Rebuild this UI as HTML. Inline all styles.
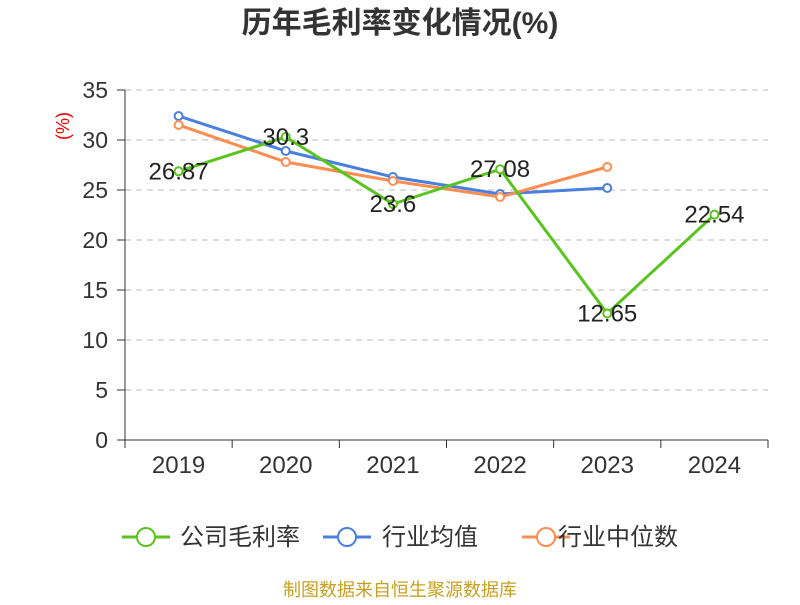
<!DOCTYPE html>
<html><head><meta charset="utf-8"><style>
body{margin:0;background:#fff;}
svg text{font-family:"Liberation Sans","Noto Sans CJK SC",sans-serif;}
</style></head><body>
<svg width="800" height="600" id="c">
<text x="400" y="33" text-anchor="middle" font-size="30" font-weight="bold" fill="#333">历年毛利率变化情况(%)</text>
<text transform="translate(69,126) rotate(-90)" text-anchor="middle" font-size="18" fill="#e00">(%)</text>
<g id="grid"></g><g id="axes"></g><g id="series"></g>
<g>
<g><line x1="122" y1="537" x2="170" y2="537" stroke="#5ac31e" stroke-width="3"/><circle cx="146" cy="537" r="9" fill="#fff" stroke="#5ac31e" stroke-width="2"/><text x="180" y="545" font-size="24" fill="#333">公司毛利率</text></g>
<g><line x1="323" y1="537" x2="371" y2="537" stroke="#4a7fe0" stroke-width="3"/><circle cx="347" cy="537" r="9" fill="#fff" stroke="#4a7fe0" stroke-width="2"/><text x="382" y="545" font-size="24" fill="#333">行业均值</text></g>
<g><line x1="522" y1="537" x2="570" y2="537" stroke="#ff8c50" stroke-width="3"/><circle cx="546" cy="537" r="9" fill="#fff" stroke="#ff8c50" stroke-width="2"/><text x="558" y="545" font-size="24" fill="#333">行业中位数</text></g>
</g>
<text x="400" y="596" text-anchor="middle" font-size="18" fill="#c8a020">制图数据来自恒生聚源数据库</text>
</svg>
<script>
const categories=["2019","2020","2021","2022","2023","2024"];
const companyValues=[26.87,30.3,23.6,27.08,12.65,22.54];
const avgValues=[32.4,28.9,26.3,24.6,25.2];
const medianValues=[31.5,27.8,25.9,24.3,27.3];
const yTicks=[0,5,10,15,20,25,30,35];
const NS="http://www.w3.org/2000/svg";
const L=125,R=768,T=90,B=440,yMax=35;
const bw=(R-L)/categories.length;
const xS=i=>L+bw*(i+0.5);
const yS=v=>B-(v/yMax)*(B-T);
function mk(tag,attrs,parent,txt){const e=document.createElementNS(NS,tag);for(const k in attrs)e.setAttribute(k,attrs[k]);if(txt!=null)e.textContent=txt;parent.appendChild(e);return e;}
const grid=document.getElementById('grid'),axes=document.getElementById('axes'),ser=document.getElementById('series');
yTicks.forEach(t=>{
 const y=yS(t);
 if(t>0){const g=mk('line',{x1:L,x2:R,y1:y,y2:y,stroke:'#bbb','stroke-dasharray':'6,5'},grid);
 
 }
 mk('line',{x1:L-8,x2:L,y1:y,y2:y,stroke:'#333'},axes);
 const tx=mk('text',{x:L-17,y:y+8,'text-anchor':'end','font-size':23,fill:'#333'},axes,t);
 
 
});
mk('line',{x1:L,x2:L,y1:T,y2:B,stroke:'#333'},axes);
mk('line',{x1:L,x2:R,y1:B,y2:B,stroke:'#333'},axes);
for(let i=0;i<=categories.length;i++)mk('line',{x1:L+bw*i,x2:L+bw*i,y1:B,y2:B+8,stroke:'#333'},axes);
categories.forEach((c,i)=>{
 const tx=mk('text',{x:xS(i),y:B+33,'text-anchor':'middle','font-size':24,fill:'#333'},axes,c);
 
 
});
function series(vals,color,name,labels){
 const g=mk('g',{},ser);
 
 
 const p=mk('polyline',{points:vals.map((v,i)=>xS(i)+','+yS(v)).join(' '),fill:'none',stroke:color,'stroke-width':3},g);
 
 
 vals.forEach((v,i)=>{
  const c=mk('circle',{cx:xS(i),cy:yS(v),r:4,fill:'#fff',stroke:color,'stroke-width':2},g);
  
  
  if(labels){const t=mk('text',{x:xS(i),y:yS(v)+8,'text-anchor':'middle','font-size':24,fill:'#222'},g,v);
  
  }
 });
}
series(avgValues,'#4a7fe0','industry-average',false);
series(medianValues,'#ff8c50','industry-median',false);
series(companyValues,'#5ac31e','gross-margin',true);
</script>
</body></html>
